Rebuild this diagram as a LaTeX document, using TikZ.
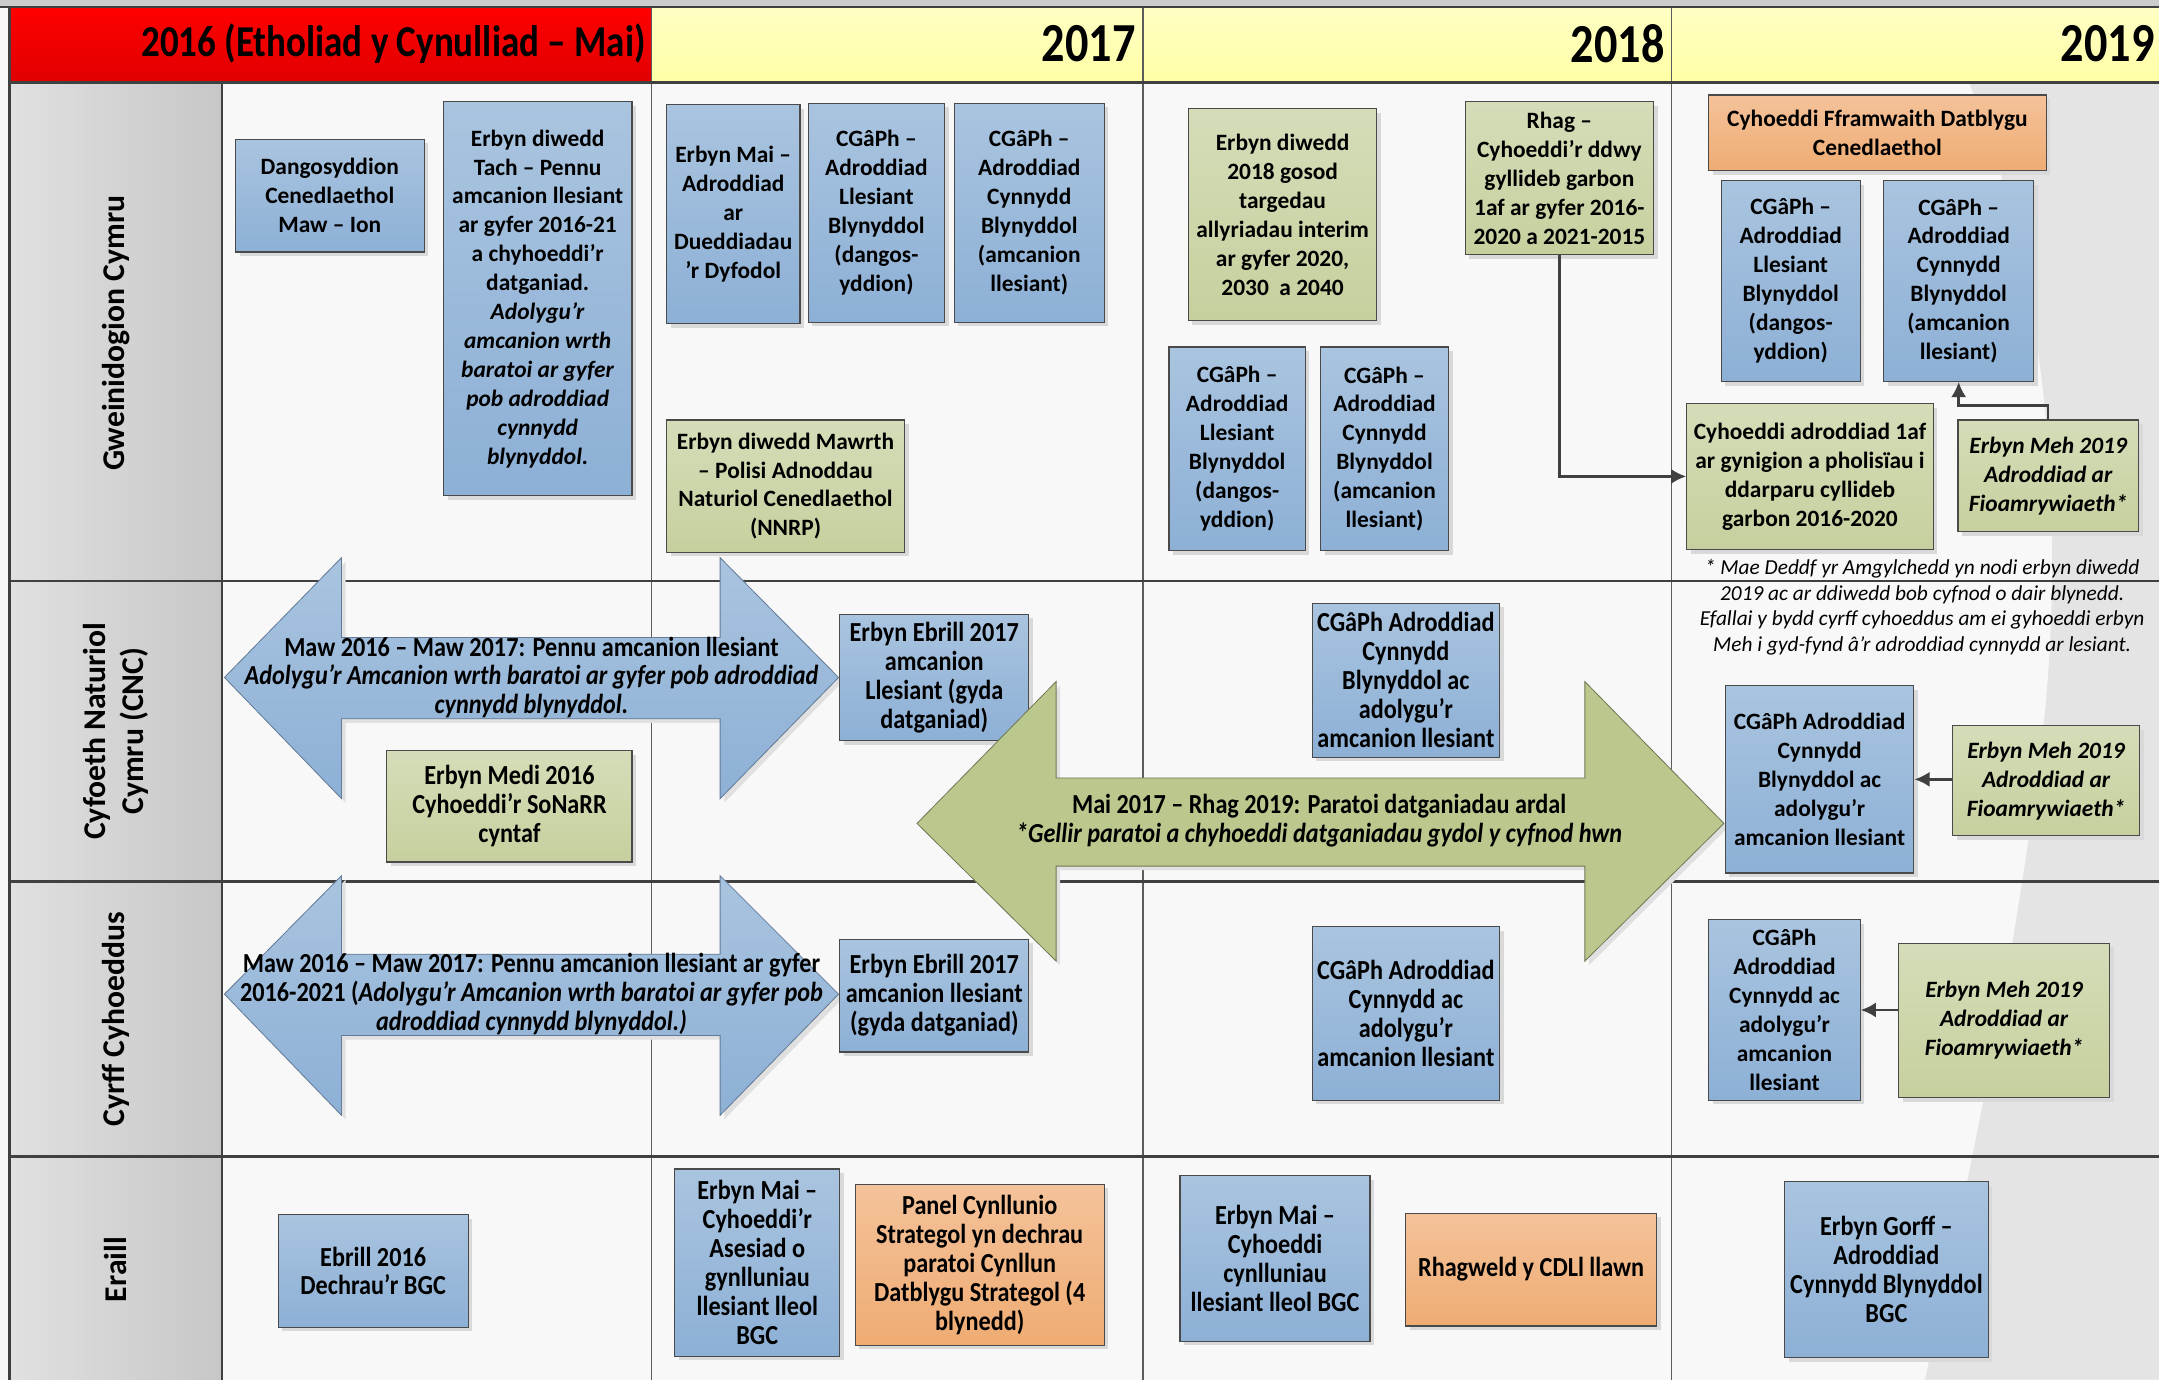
\documentclass[tikz,border=0pt]{standalone}
\usepackage{fontspec}
\setmainfont{Carlito}
\newfontfamily\narrowfont[FakeStretch=0.88]{Carlito}
\newfontfamily\titlefont[FakeStretch=0.84]{Carlito}
\usetikzlibrary{shapes,arrows.meta,calc,shadows}
\definecolor{bluetop}{HTML}{A9C4DF}
\definecolor{bluebot}{HTML}{8DB0D6}
\definecolor{greentop}{HTML}{D4DDB8}
\definecolor{greenbot}{HTML}{C6D09E}
\definecolor{orangetop}{HTML}{F4C29A}
\definecolor{orangebot}{HTML}{EFAC73}
\definecolor{yellowtop}{HTML}{FFFFC4}
\definecolor{yellowbot}{HTML}{FFFFA6}
\definecolor{edge}{HTML}{4A4A4A}
\definecolor{grid}{HTML}{404040}
\definecolor{paper}{HTML}{F8F8F8}
\definecolor{swoosh}{HTML}{E4E4E4}
\definecolor{bigarrow}{HTML}{BAC88E}
\tikzstyle{line} = [draw=grid, line width=1.8pt, -{Latex[length=11pt,width=11pt]}]
\tikzstyle{box} = [draw=edge, line width=0.8pt, rectangle, align=center, inner sep=2pt, drop shadow={shadow xshift=3pt, shadow yshift=-3pt, fill=black!15, opacity=1}, font=\bfseries\fontsize{17}{21}\selectfont]
\tikzstyle{bluebox} = [box, top color=bluetop, bottom color=bluebot]
\tikzstyle{greenbox} = [box, top color=greentop, bottom color=greenbot]
\tikzstyle{orangebox} = [box, top color=orangetop, bottom color=orangebot]
\tikzstyle{narrow} = [align=center, font=\narrowfont\bfseries\fontsize{20}{21}\selectfont]
\tikzstyle{slanted} = [font=\bfseries\itshape\fontsize{17}{21}\selectfont]
\tikzstyle{year} = [anchor=east, inner sep=0pt, font=\titlefont\bfseries\fontsize{40}{42}\selectfont]
\tikzstyle{lane} = [rotate=90, align=center, font=\bfseries\fontsize{23}{28}\selectfont]
\tikzstyle{bluearrow} = [draw=bluebot!70!black, line width=0.6pt, top color=bluetop, bottom color=bluebot, drop shadow={shadow xshift=3pt, shadow yshift=-3pt, fill=black!12, opacity=1}]
\tikzstyle{greenarrow} = [draw=bigarrow!60!black, line width=0.6pt, fill=bigarrow, drop shadow={shadow xshift=3pt, shadow yshift=-3pt, fill=black!12, opacity=1}]
\tikzset{sz/.style 2 args={minimum width=#1pt, minimum height=#2pt}}

\begin{document}
\begin{tikzpicture}[x=1pt, y=-1pt]
  \useasboundingbox (0,0) rectangle (1568,1002);
  % background and swoosh
  \fill[paper] (0,0) rectangle (1568,1002);
  \fill[swoosh] (1430,60) .. controls (1495,220) and (1500,420) .. (1480,560) .. controls (1460,720) and (1420,900) .. (1398,1002) -- (1568,1002) -- (1568,60) -- cycle;
  \fill[black!20] (0,0) rectangle (1568,5);
  % header row
  \shade[top color=red, bottom color=red!88!black] (7,5) rectangle (473,60);
  \shade[top color=yellowtop, bottom color=yellowbot] (473,5) rectangle (1568,60);
  \node[year, font=\titlefont\bfseries\fontsize{32}{34}\selectfont] (y16) at (469,32) {2016 (Etholiad y Cynulliad – Mai)};
  \node[year] (y17) at (825,32) {2017};
  \node[year] (y18) at (1209,32) {2018};
  \node[year] (y19) at (1565,32) {2019};
  % lanes
  \shade[left color=black!12, right color=black!22] (7,60) rectangle (161,1002);
  \node[lane] (gwein) at (84,242) {Gweinidogion Cymru};
  \node[lane] (cnc) at (84,531) {Cyfoeth Naturiol\\Cymru (CNC)};
  \node[lane] (cyrff) at (84,740) {Cyrff Cyhoeddus};
  \node[lane] (eraill) at (84,922) {Eraill};
  % grid
  \foreach \x in {473,830,1214}
    \draw[grid!85, line width=1pt] (\x,5) -- (\x,1002);
  \draw[grid, line width=2pt] (0,5) -- (1568,5);
  \draw[grid, line width=2pt] (7,60) -- (1568,60);
  \foreach \y in {422,640,840}
    \draw[grid, line width=2pt] (7,\y) -- (1568,\y);
  \draw[grid, line width=2pt] (7,5) -- (7,1002);
  \draw[grid, line width=1.5pt] (161,60) -- (161,1002);

  % Gweinidogion Cymru
  \node[bluebox, sz={137}{82}] (dang) at (239.5,142) {Dangosyddion\\Cenedlaethol\\Maw – Ion};
  \node[bluebox, sz={137}{286}] (tach) at (390.5,217) {Erbyn diwedd\\Tach – Pennu\\amcanion llesiant\\ar gyfer 2016-21\\a chyhoeddi’r\\datganiad.\\\textit{Adolygu’r}\\\textit{amcanion wrth}\\\textit{baratoi ar gyfer}\\\textit{pob adroddiad}\\\textit{cynnydd}\\\textit{blynyddol.}};
  \node[bluebox, sz={97}{159}] (dyfodol) at (532.5,155.5) {Erbyn Mai –\\Adroddiad\\ar\\Dueddiadau\\’r Dyfodol};
  \node[bluebox, sz={99}{159}] (llesa) at (636.5,154.5) {CGâPh –\\Adroddiad\\Llesiant\\Blynyddol\\(dangos-\\yddion)};
  \node[bluebox, sz={109}{159}] (cynna) at (747.5,154.5) {CGâPh –\\Adroddiad\\Cynnydd\\Blynyddol\\(amcanion\\llesiant)};
  \node[greenbox, sz={173}{96}] (nnrp) at (570.5,353) {Erbyn diwedd Mawrth\\– Polisi Adnoddau\\Naturiol Cenedlaethol\\(NNRP)};
  \node[greenbox, sz={137}{154}] (targed) at (931.5,156) {Erbyn diwedd\\2018 gosod\\targedau\\allyriadau interim\\ar gyfer 2020,\\2030~ a 2040};
  \node[greenbox, sz={137}{111}] (rhag) at (1132.5,129.5) {Rhag –\\Cyhoeddi’r ddwy\\gyllideb garbon\\1af ar gyfer 2016-\\2020 a 2021-2015};
  \node[bluebox, sz={99}{148}] (llesb) at (898.5,326) {CGâPh –\\Adroddiad\\Llesiant\\Blynyddol\\(dangos-\\yddion)};
  \node[bluebox, sz={93}{148}] (cynnb) at (1005.5,326) {CGâPh –\\Adroddiad\\Cynnydd\\Blynyddol\\(amcanion\\llesiant)};
  \node[orangebox, sz={245}{55}] (ffram) at (1363.5,96.5) {Cyhoeddi Fframwaith Datblygu\\Cenedlaethol};
  \node[bluebox, sz={101}{146}] (llesc) at (1300.5,204) {CGâPh –\\Adroddiad\\Llesiant\\Blynyddol\\(dangos-\\yddion)};
  \node[bluebox, sz={109}{146}] (cynnc) at (1422.5,204) {CGâPh –\\Adroddiad\\Cynnydd\\Blynyddol\\(amcanion\\llesiant)};
  \node[greenbox, sz={179}{106}] (carbon) at (1314.5,346) {Cyhoeddi adroddiad 1af\\ar gynigion a pholisïau i\\ddarparu cyllideb\\garbon 2016-2020};
  \node[greenbox, slanted, sz={131}{81}] (bioa) at (1487.5,345.5) {Erbyn Meh 2019\\Adroddiad ar\\Fioamrywiaeth*};
  \node[align=center, font=\itshape\fontsize{15.5}{18.7}\selectfont] (note) at (1396,441) {* Mae Deddf yr Amgylchedd yn nodi erbyn diwedd\\2019 ac ar ddiwedd bob cyfnod o dair blynedd.\\Efallai y bydd cyrff cyhoeddus am ei gyhoeddi erbyn\\Meh i gyd-fynd â’r adroddiad cynnydd ar lesiant.};
  \path[line] (rhag.south) |- (carbon.west);
  \path[line] (bioa.north) -- ++(0,-10) -| (cynnc.south);

  % Cyfoeth Naturiol Cymru
  \path[bluearrow] (163,492) -- (248,405) -- (248,463) -- (523,463) -- (523,405) -- (609,492) -- (523,580) -- (523,522) -- (248,522) -- (248,580) -- cycle;
  \node[narrow] (pennua) at (386,492) {Maw 2016 – Maw 2017: Pennu amcanion llesiant\\\textit{Adolygu’r Amcanion wrth baratoi ar gyfer pob adroddiad}\\\textit{cynnydd blynyddol.}};
  \node[bluebox, narrow, sz={137}{92}] (ebrilla) at (678.5,492) {Erbyn Ebrill 2017\\amcanion\\Llesiant (gyda\\datganiad)};
  \node[greenbox, narrow, sz={178}{81}] (sonarr) at (370,585.5) {Erbyn Medi 2016\\Cyhoeddi’r SoNaRR\\cyntaf};
  \node[bluebox, narrow, sz={136}{112}] (cnca) at (1021,494) {CGâPh Adroddiad\\Cynnydd\\Blynyddol ac\\adolygu’r\\amcanion llesiant};
  \path[greenarrow] (666,598) -- (767,495) -- (767,565) -- (1151,565) -- (1151,495) -- (1252,598) -- (1151,698) -- (1151,629) -- (767,629) -- (767,698) -- cycle;
  \node[narrow] (ardal) at (958,596) {Mai 2017 – Rhag 2019: Paratoi datganiadau ardal\\\textit{*Gellir paratoi a chyhoeddi datganiadau gydol y cyfnod hwn}};
  \node[bluebox, sz={137}{136}] (cncb) at (1321.5,566) {CGâPh Adroddiad\\Cynnydd\\Blynyddol ac\\adolygu’r\\amcanion llesiant};
  \node[greenbox, slanted, sz={136}{80}] (biob) at (1486,567) {Erbyn Meh 2019\\Adroddiad ar\\Fioamrywiaeth*};
  \path[line] (cncb.east -| biob.west) -- (cncb.east);

  % Cyrff Cyhoeddus
  \path[bluearrow] (163,722) -- (248,636) -- (248,693) -- (523,693) -- (523,636) -- (609,722) -- (523,810) -- (523,752) -- (248,752) -- (248,810) -- cycle;
  \node[narrow] (pennub) at (386,722) {Maw 2016 – Maw 2017: Pennu amcanion llesiant ar gyfer\\2016-2021 (\textit{Adolygu’r Amcanion wrth baratoi ar gyfer pob}\\\textit{adroddiad cynnydd blynyddol.)}};
  \node[bluebox, narrow, sz={137}{82}] (ebrillb) at (678.5,723) {Erbyn Ebrill 2017\\amcanion llesiant\\(gyda datganiad)};
  \node[bluebox, narrow, sz={136}{126}] (cyrffa) at (1021,736) {CGâPh Adroddiad\\Cynnydd ac\\adolygu’r\\amcanion llesiant};
  \node[bluebox, sz={110}{131}] (cyrffb) at (1296,733.5) {CGâPh\\Adroddiad\\Cynnydd ac\\adolygu’r\\amcanion\\llesiant};
  \node[greenbox, slanted, sz={153}{112}] (bioc) at (1455.5,741) {Erbyn Meh 2019\\Adroddiad ar\\Fioamrywiaeth*};
  \path[line] (cyrffb.east -| bioc.west) -- (cyrffb.east);

  % Eraill
  \node[bluebox, narrow, sz={138}{82}] (bgc) at (271,923) {Ebrill 2016\\Dechrau’r BGC};
  \node[bluebox, narrow, sz={120}{136}] (asesiad) at (550,917) {Erbyn Mai –\\Cyhoeddi’r\\Asesiad o\\gynlluniau\\llesiant lleol\\BGC};
  \node[orangebox, narrow, sz={181}{117}] (panel) at (711.5,918.5) {Panel Cynllunio\\Strategol yn dechrau\\paratoi Cynllun\\Datblygu Strategol (4\\blynedd)};
  \node[bluebox, narrow, sz={138}{120}] (cynllun) at (926,914) {Erbyn Mai –\\Cyhoeddi\\cynlluniau\\llesiant lleol BGC};
  \node[orangebox, narrow, sz={182}{82}] (cdll) at (1112,922) {Rhagweld y CDLl llawn};
  \node[bluebox, narrow, sz={148}{128}] (gorff) at (1370,922) {Erbyn Gorff –\\Adroddiad\\Cynnydd Blynyddol\\BGC};
\end{tikzpicture}
\end{document}
